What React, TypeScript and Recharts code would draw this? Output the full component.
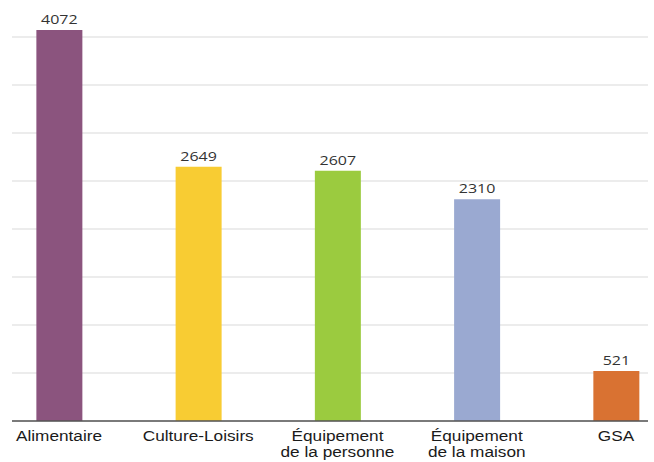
import React from "react";
import { BarChart, Bar, XAxis, YAxis, CartesianGrid, Cell, LabelList } from "recharts";

const categories = ["Alimentaire", "Culture-Loisirs", "Équipement\nde la personne", "Équipement\nde la maison", "GSA"];
const values = [4072, 2649, 2607, 2310, 521];
const yTicks = [0, 500, 1000, 1500, 2000, 2500, 3000, 3500, 4000];
const barColors = ["#8B547E", "#F8CC33", "#9BCB3F", "#9AA9D1", "#D97232"];

const data = categories.map((c, i) => ({ idx: i, name: c, value: values[i] }));
const xTicks = data.map((d) => d.idx);

const STRETCH = 1.23;

const CategoryTick = (props: any) => {
  const { x, y, payload } = props;
  const lines = String(categories[payload.value] ?? "").split("\n");
  return (
    <g transform={`translate(${x},${y})`}>
      <text
        transform={`scale(${STRETCH},1)`}
        textAnchor="middle"
        fontFamily="'Liberation Sans', Arial, sans-serif"
        fontSize={14}
        fill="#1a1a1a"
      >
        {lines.map((l, i) => (
          <tspan key={i} x={0} y={20.5 + i * 16}>
            {l}
          </tspan>
        ))}
      </text>
    </g>
  );
};

const ValueLabel = (props: any) => {
  const { x, y, width, value } = props;
  const cx = Number(x) + Number(width) / 2;
  return (
    <g transform={`translate(${cx},${Number(y) - 6})`}>
      <text
        transform={`scale(${STRETCH},1)`}
        textAnchor="middle"
        fontFamily="'Open Sans', 'Noto Sans', sans-serif"
        fontSize={13}
        fill="#333333"
      >
        {value}
      </text>
    </g>
  );
};

export default function App() {
  return (
    <div style={{ position: "absolute", left: 0, top: 0, width: 654, height: 462, background: "#fff" }}>
      <BarChart width={654} height={462} data={data} margin={{ top: 13, right: 6, left: 12, bottom: 0 }}>
        <CartesianGrid vertical={false} stroke="#d9d9d9" strokeWidth={1.2} horizontalValues={yTicks} />
        <YAxis hide domain={[0, 4250]} ticks={yTicks} type="number" />
        <XAxis
          dataKey="idx"
          type="number"
          domain={[-0.3375, 4.23]}
          ticks={xTicks}
          tick={<CategoryTick />}
          tickLine={false}
          tickSize={0}
          tickMargin={0}
          height={41}
          axisLine={{ stroke: "#555555", strokeWidth: 1.5 }}
          interval={0}
        />
        <Bar dataKey="value" barSize={46} isAnimationActive={false}>
          {data.map((d, i) => (
            <Cell key={d.name} fill={barColors[i]} />
          ))}
          <LabelList dataKey="value" content={<ValueLabel />} />
        </Bar>
      </BarChart>
    </div>
  );
}
